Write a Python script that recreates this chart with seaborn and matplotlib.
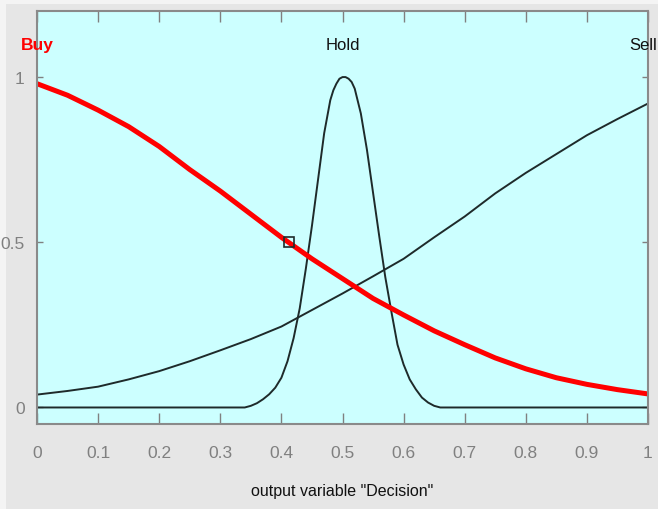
import matplotlib
matplotlib.use("Agg")
import matplotlib.pyplot as plt
import seaborn as sns
import pandas as pd
from matplotlib.patches import Rectangle

# ---- data ----
buy_x = [0, 0.05, 0.1, 0.15, 0.2, 0.25, 0.3, 0.35, 0.4, 0.45, 0.5, 0.55, 0.6,
         0.65, 0.7, 0.75, 0.8, 0.85, 0.9, 0.95, 1.0]
buy_y = [0.98, 0.945, 0.90, 0.85, 0.79, 0.72, 0.655, 0.585, 0.515, 0.45, 0.39,
         0.33, 0.28, 0.232, 0.19, 0.15, 0.117, 0.09, 0.07, 0.054, 0.041]

hold_x = [0, 0.34, 0.35, 0.36, 0.37, 0.38, 0.39, 0.40, 0.41, 0.42, 0.43, 0.44,
          0.45, 0.46, 0.47, 0.48, 0.485, 0.49, 0.495, 0.50, 0.505, 0.51, 0.515,
          0.52, 0.53, 0.54, 0.55, 0.56, 0.57, 0.58, 0.59, 0.60, 0.61, 0.62,
          0.63, 0.64, 0.65, 0.66, 1.0]
hold_y = [0, 0, 0.005, 0.013, 0.025, 0.04, 0.06, 0.09, 0.14, 0.21, 0.30, 0.42,
          0.55, 0.69, 0.83, 0.93, 0.96, 0.98, 0.995, 1.0, 1.0, 0.995, 0.985,
          0.965, 0.89, 0.78, 0.65, 0.52, 0.395, 0.29, 0.19, 0.13, 0.085, 0.055,
          0.03, 0.015, 0.005, 0, 0]

sell_x = [0, 0.05, 0.1, 0.15, 0.2, 0.25, 0.3, 0.35, 0.4, 0.45, 0.5, 0.55, 0.6,
          0.65, 0.7, 0.75, 0.8, 0.85, 0.9, 0.95, 1.0]
sell_y = [0.039, 0.05, 0.063, 0.085, 0.11, 0.14, 0.173, 0.207, 0.245, 0.295,
          0.345, 0.397, 0.45, 0.515, 0.578, 0.648, 0.71, 0.767, 0.824, 0.873, 0.92]

mf_names = ["Buy", "Hold", "Sell"]
mf_label_x = [0.0, 0.5, 0.9915]

marker_x = [0.412]
marker_y = [0.5]

x_ticks = [0, 0.1, 0.2, 0.3, 0.4, 0.5, 0.6, 0.7, 0.8, 0.9, 1]
x_tick_labels = ["0", "0.1", "0.2", "0.3", "0.4", "0.5", "0.6", "0.7", "0.8", "0.9", "1"]
y_ticks = [0, 0.5, 1]
y_tick_labels = ["0", "0.5", "1"]
x_label = 'output variable "Decision"'

# ---- figure ----
plt.rcParams['font.family'] = ['Liberation Sans', 'DejaVu Sans']
fig = plt.figure(figsize=(6.58, 5.10), dpi=100, facecolor="#e6e6e6")
fig.patches.append(Rectangle((0, 0.99), 1, 0.01, transform=fig.transFigure,
                             facecolor="#f4f4f4", edgecolor="none", zorder=-1))
fig.patches.append(Rectangle((0, 0), 0.009, 1, transform=fig.transFigure,
                             facecolor="#f4f4f4", edgecolor="none", zorder=-1))

ax = fig.add_axes([37/658, 85/510, 611/658, 413/510])
ax.set_facecolor("#ccffff")

df_buy = pd.DataFrame({"x": buy_x, "y": buy_y})
df_hold = pd.DataFrame({"x": hold_x, "y": hold_y})
df_sell = pd.DataFrame({"x": sell_x, "y": sell_y})

sns.lineplot(data=df_sell, x="x", y="y", ax=ax, color="#1e2a2a", linewidth=1.4,
             estimator=None, sort=True)
sns.lineplot(data=df_hold, x="x", y="y", ax=ax, color="#1e2a2a", linewidth=1.4,
             estimator=None, sort=True)
sns.lineplot(data=df_buy, x="x", y="y", ax=ax, color="#ff0000", linewidth=3.6,
             estimator=None, sort=True)

ax.plot(marker_x, marker_y, marker="s", markersize=7, markerfacecolor="none",
        markeredgecolor="#1e2a2a", markeredgewidth=1.2, linestyle="none", zorder=5)

for name, px in zip(mf_names, mf_label_x):
    is_sel = name == "Buy"
    ax.text(px, 1.10, name, ha="center", va="center",
            color="#ff0000" if is_sel else "#111111",
            fontsize=12.5 if is_sel else 12,
            fontweight="bold" if is_sel else "normal",
            clip_on=False)

ax.set_xlim(0, 1)
ax.set_ylim(-0.05, 1.2)
ax.set_xticks(x_ticks)
ax.set_xticklabels(x_tick_labels)
ax.set_yticks(y_ticks)
ax.set_yticklabels(y_tick_labels)
ax.set_xlabel(x_label, fontsize=11.5, color="#111111", labelpad=17)
ax.set_ylabel("")

ax.tick_params(axis="x", direction="in", length=8, width=1, color="#808080",
               labelcolor="#808080", labelsize=12.5, top=True, pad=15)
ax.tick_params(axis="y", direction="in", length=4, width=1, color="#808080",
               labelcolor="#808080", labelsize=12.5, right=True, pad=9)
for s in ax.spines.values():
    s.set_color("#8a8a8a")
    s.set_linewidth(1.5)

fig.savefig("out.png", dpi=100, facecolor=fig.get_facecolor())
